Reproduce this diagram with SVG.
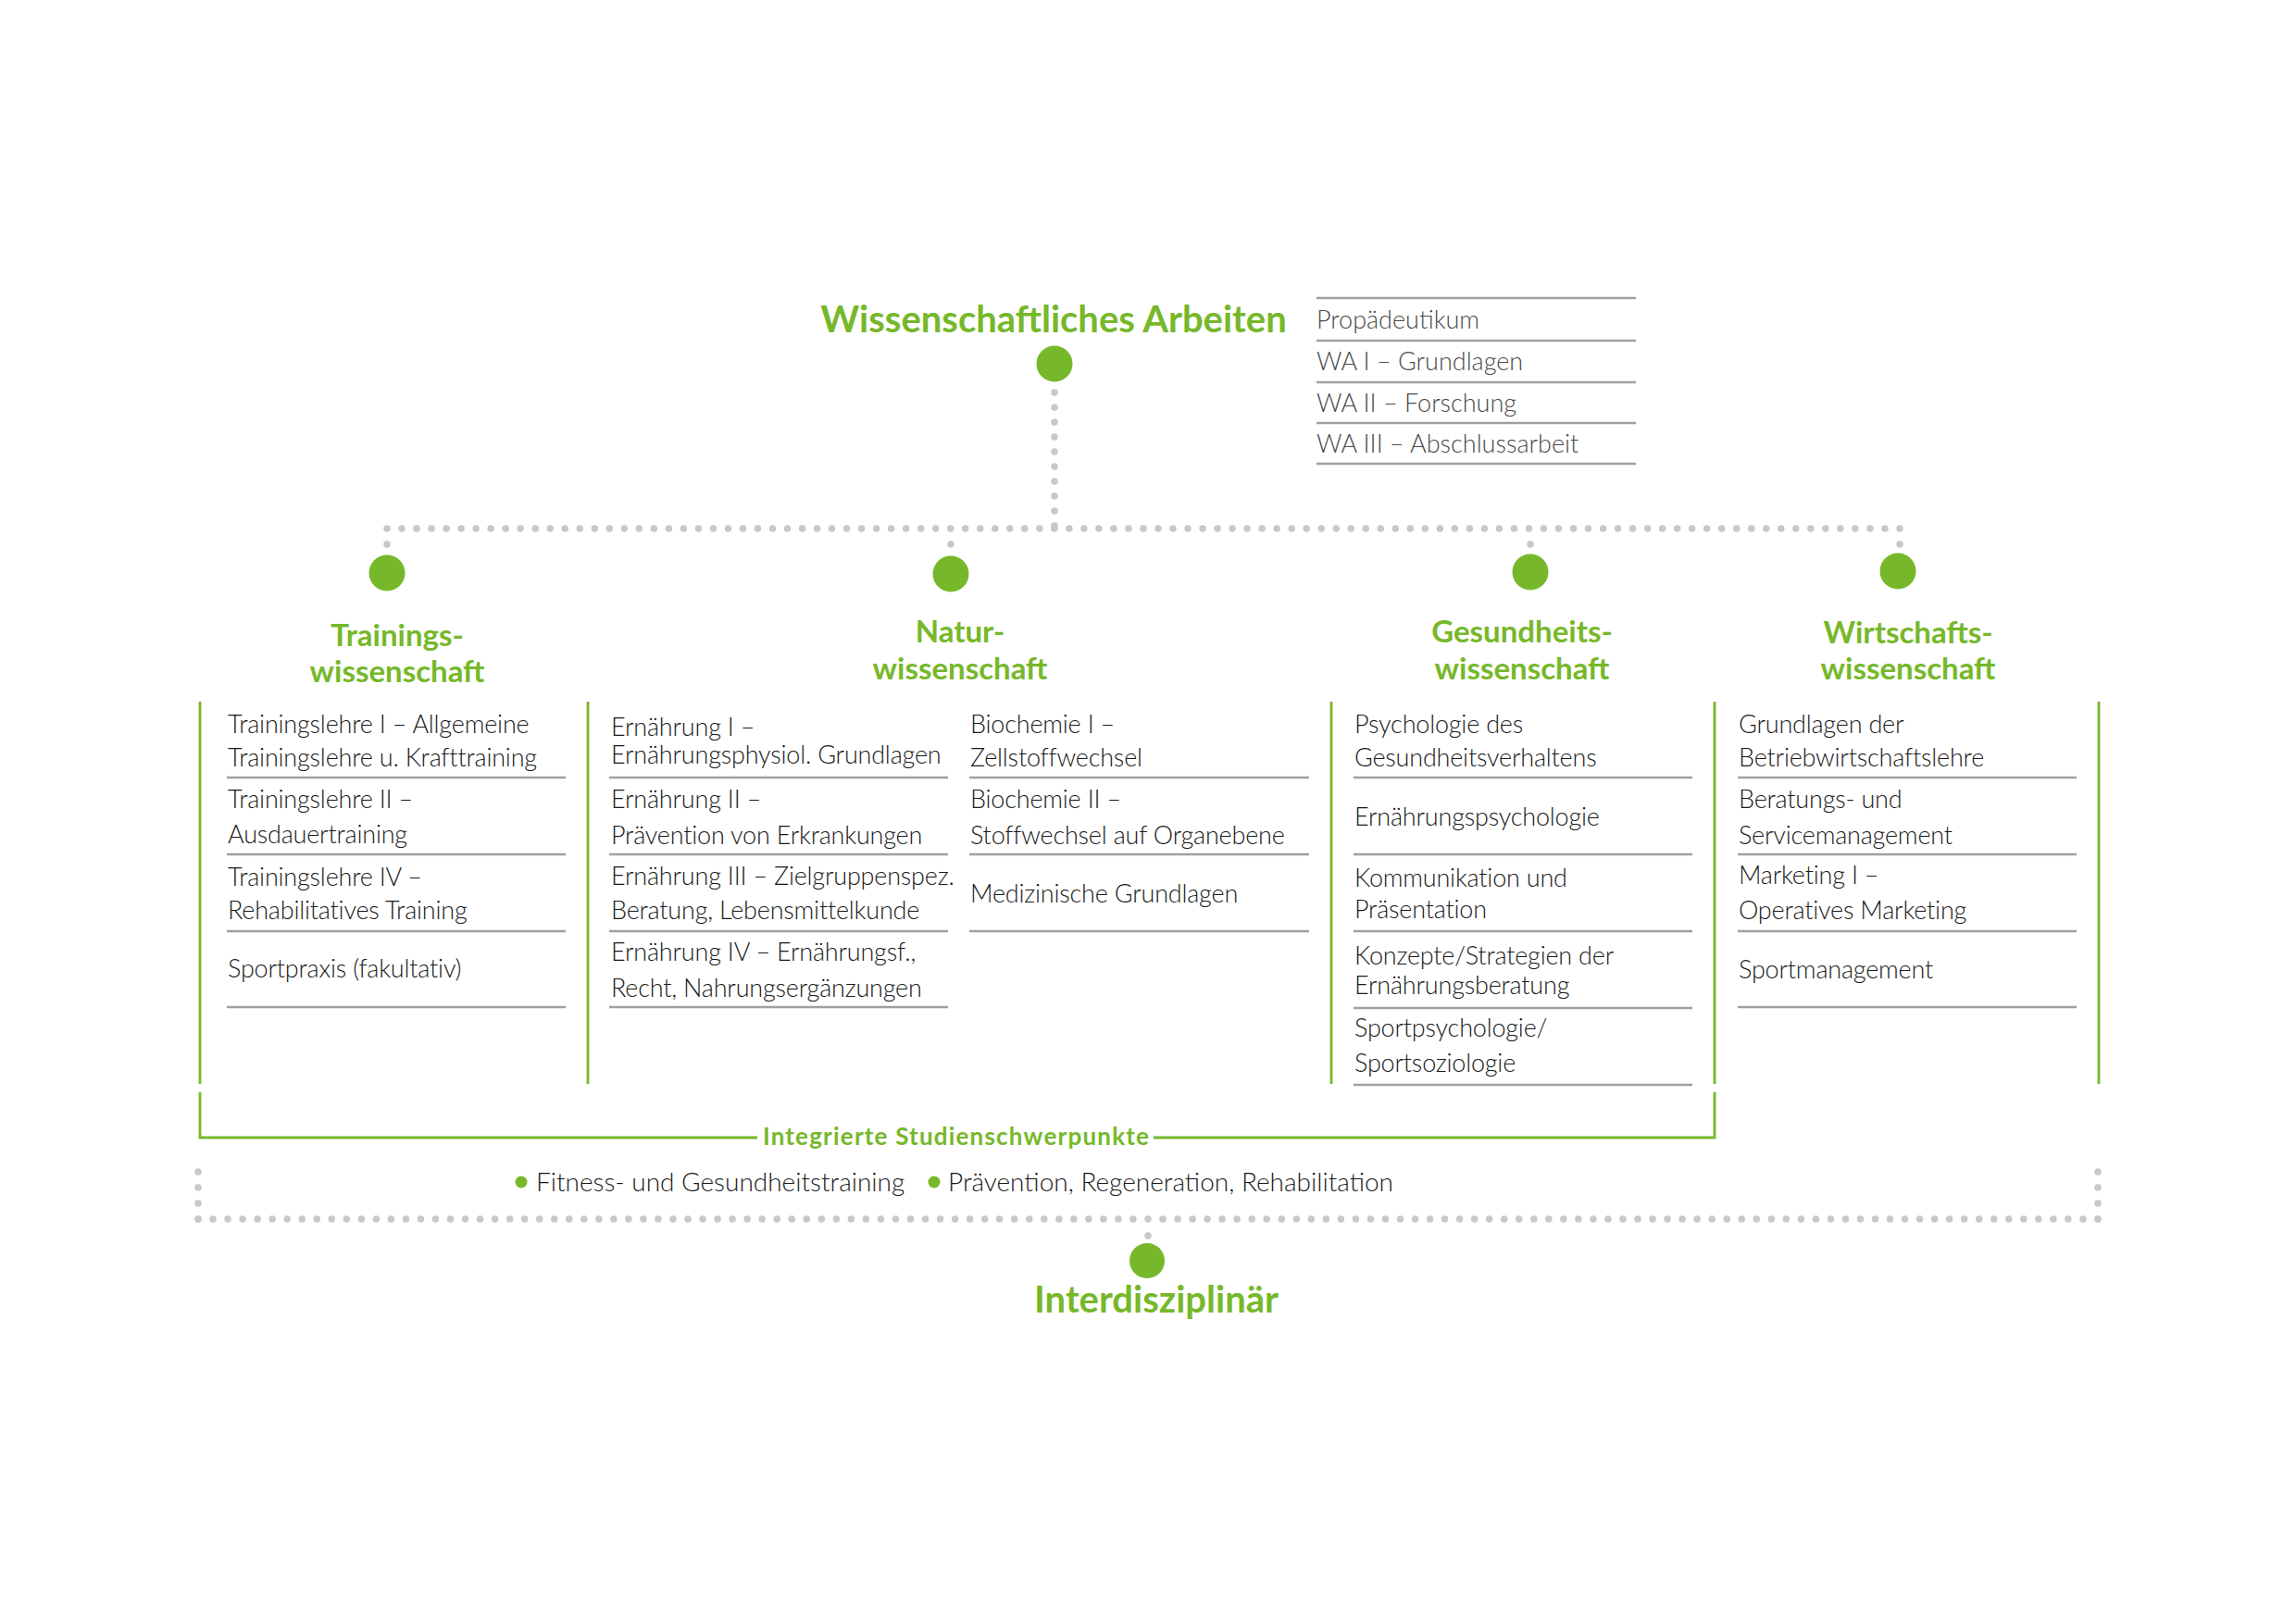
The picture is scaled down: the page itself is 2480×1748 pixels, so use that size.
<svg xmlns="http://www.w3.org/2000/svg" width="2480" height="1748" viewBox="0 0 2480 1748">
<style>
.bg{fill:#ffffff}
.node{fill:#76b82a}
.dots{fill:none;stroke:#c8c8c8;stroke-width:7.5;stroke-linecap:round}
.green{fill:none;stroke:#76b82a;stroke-width:2.8}
.rule{fill:none;stroke:#a0a0a0;stroke-width:2.6}
.head{font-family:Lato,"Liberation Sans",sans-serif;font-weight:700;fill:#76b82a;text-anchor:middle}
.h1{font-size:40px}
.h2{font-size:33px}
.lbl{font-size:26px;letter-spacing:1.2px}
.item{font-family:Lato,"Liberation Sans",sans-serif;font-weight:300;font-size:27px;letter-spacing:-0.2px;fill:#1a1a1a}
.bul{font-family:Lato,"Liberation Sans",sans-serif;font-weight:300;font-size:28px;fill:#1a1a1a}
.wa{font-family:Lato,"Liberation Sans",sans-serif;font-weight:300;font-size:27px;fill:#4a4a4a}
</style>
<rect class="bg" x="0" y="0" width="2480" height="1748"/>

<g id="connectors">
  <path class="dots" d="M1139 424 V568" stroke-dasharray="0 15.99"/>
  <path class="dots" d="M418 571 H2052" stroke-dasharray="0 16.019"/>
  <path class="dots" d="M418 588 h0 M1027 588 h0 M1653 588 h0 M2052 588 h0"/>
  <path class="dots" d="M214 1266 V1317" stroke-dasharray="0 16.99"/>
  <path class="dots" d="M2266 1266 V1317" stroke-dasharray="0 16.99"/>
  <path class="dots" d="M214 1317 H2266" stroke-dasharray="0 16.031"/>
  <path class="dots" d="M1240 1335 h0"/>
  <path class="green" d="M216 758 V1171 M635 758 V1171 M1438 758 V1171 M1852 758 V1171 M2267 758 V1171"/>
  <path class="green" d="M216 1180 V1229 H818 M1246 1229 H1852 V1180"/>
</g>

<g id="wissenschaftliches-arbeiten">
  <text class="head h1" x="1138" y="359">Wissenschaftliches Arbeiten</text>
  <circle class="node" cx="1139" cy="393" r="19.5"/>
  <path class="rule" d="M1422 322 H1767 M1422 368 H1767 M1422 413 H1767 M1422 457 H1767 M1422 501 H1767"/>
  <text class="wa" x="1422" y="355">Propädeutikum</text>
  <text class="wa" x="1422" y="400">WA I – Grundlagen</text>
  <text class="wa" x="1422" y="445">WA II – Forschung</text>
  <text class="wa" x="1422" y="489">WA III – Abschlussarbeit</text>
</g>

<g id="trainingswissenschaft">
  <circle class="node" cx="418" cy="619" r="19.5"/>
  <text class="head h2" x="429" y="698">Trainings-</text>
  <text class="head h2" x="429" y="737">wissenschaft</text>
  <path class="rule" d="M245 840 H611 M245 923 H611 M245 1006 H611 M245 1088 H611"/>
  <text class="item" x="246" y="792">Trainingslehre I – Allgemeine</text>
  <text class="item" x="246" y="828">Trainingslehre u. Krafttraining</text>
  <text class="item" x="246" y="873">Trainingslehre II –</text>
  <text class="item" x="246" y="911">Ausdauertraining</text>
  <text class="item" x="246" y="957">Trainingslehre IV –</text>
  <text class="item" x="246" y="993">Rehabilitatives Training</text>
  <text class="item" x="246" y="1056">Sportpraxis (fakultativ)</text>
</g>

<g id="naturwissenschaft">
  <circle class="node" cx="1027" cy="620" r="19.5"/>
  <text class="head h2" x="1037" y="694">Natur-</text>
  <text class="head h2" x="1037" y="734">wissenschaft</text>
  <path class="rule" d="M658 840 H1024 M658 923 H1024 M658 1006 H1024 M658 1088 H1024"/>
  <path class="rule" d="M1047 840 H1414 M1047 923 H1414 M1047 1006 H1414"/>
  <text class="item" x="660" y="795">Ernährung I –</text>
  <text class="item" x="660" y="825">Ernährungsphysiol. Grundlagen</text>
  <text class="item" x="660" y="873">Ernährung II –</text>
  <text class="item" x="660" y="912">Prävention von Erkrankungen</text>
  <text class="item" x="660" y="956">Ernährung III – Zielgruppenspez.</text>
  <text class="item" x="660" y="993">Beratung, Lebensmittelkunde</text>
  <text class="item" x="660" y="1038">Ernährung IV – Ernährungsf.,</text>
  <text class="item" x="660" y="1077">Recht, Nahrungsergänzungen</text>
  <text class="item" x="1048" y="792">Biochemie I –</text>
  <text class="item" x="1048" y="828">Zellstoffwechsel</text>
  <text class="item" x="1048" y="873">Biochemie II –</text>
  <text class="item" x="1048" y="912">Stoffwechsel auf Organebene</text>
  <text class="item" x="1048" y="975">Medizinische Grundlagen</text>
</g>

<g id="gesundheitswissenschaft">
  <circle class="node" cx="1653" cy="618" r="19.5"/>
  <text class="head h2" x="1644" y="694">Gesundheits-</text>
  <text class="head h2" x="1644" y="734">wissenschaft</text>
  <path class="rule" d="M1462 840 H1828 M1462 923 H1828 M1462 1006 H1828 M1462 1089 H1828 M1462 1172 H1828"/>
  <text class="item" x="1463" y="792">Psychologie des</text>
  <text class="item" x="1463" y="828">Gesundheitsverhaltens</text>
  <text class="item" x="1463" y="892">Ernährungspsychologie</text>
  <text class="item" x="1463" y="958">Kommunikation und</text>
  <text class="item" x="1463" y="992">Präsentation</text>
  <text class="item" x="1463" y="1042">Konzepte/Strategien der</text>
  <text class="item" x="1463" y="1074">Ernährungsberatung</text>
  <text class="item" x="1463" y="1120">Sportpsychologie/</text>
  <text class="item" x="1463" y="1158">Sportsoziologie</text>
</g>

<g id="wirtschaftswissenschaft">
  <circle class="node" cx="2050" cy="617" r="19.5"/>
  <text class="head h2" x="2061" y="695">Wirtschafts-</text>
  <text class="head h2" x="2061" y="734">wissenschaft</text>
  <path class="rule" d="M1877 840 H2243 M1877 923 H2243 M1877 1006 H2243 M1877 1088 H2243"/>
  <text class="item" x="1878" y="792">Grundlagen der</text>
  <text class="item" x="1878" y="828">Betriebwirtschaftslehre</text>
  <text class="item" x="1878" y="873">Beratungs- und</text>
  <text class="item" x="1878" y="912">Servicemanagement</text>
  <text class="item" x="1878" y="955">Marketing I –</text>
  <text class="item" x="1878" y="993">Operatives Marketing</text>
  <text class="item" x="1878" y="1057">Sportmanagement</text>
</g>

<g id="studienschwerpunkte">
  <text class="head lbl" x="1033" y="1237">Integrierte Studienschwerpunkte</text>
  <circle class="node" cx="563" cy="1277" r="6.5"/>
  <text class="bul" x="579" y="1287">Fitness- und Gesundheitstraining</text>
  <circle class="node" cx="1009" cy="1277" r="6.5"/>
  <text class="bul" x="1024" y="1287">Prävention, Regeneration, Rehabilitation</text>
</g>

<g id="interdisziplinaer">
  <circle class="node" cx="1239" cy="1362" r="19"/>
  <text class="head h1" x="1249" y="1418">Interdisziplinär</text>
</g>
</svg>
